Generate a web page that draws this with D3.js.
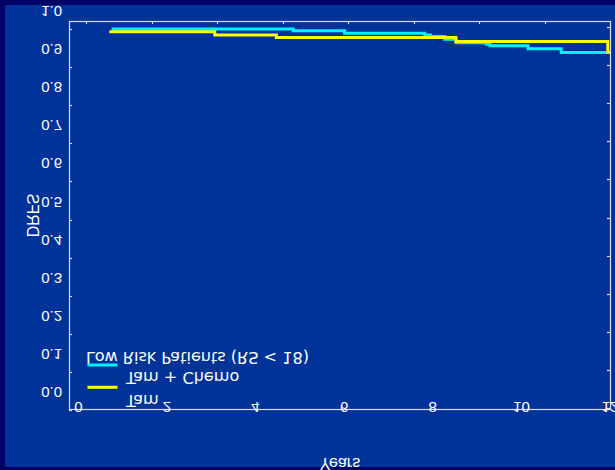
<!DOCTYPE html>
<html>
<head>
<meta charset="utf-8">
<script src="https://cdn.jsdelivr.net/npm/d3@7"></script>
<style>
  html, body { margin: 0; padding: 0; background: #000066; }
  svg { display: block; }
</style>
</head>
<body>
<script>
// Kaplan-Meier distant recurrence-free survival, low risk patients
const seriesNames = ["Tam", "Tam + Chemo"];
const tamTimes  = [0.75, 4.85, 6.01, 7.82, 7.95, 8.27, 8.53, 9.21, 9.29, 10.15, 10.90, 12.0];
const tamSurv   = [1.000, 0.9955, 0.989, 0.984, 0.980, 0.973, 0.964, 0.960, 0.956, 0.948, 0.938, 0.938];
const chemoTimes = [0.70, 3.08, 4.47, 8.52, 11.95, 12.0];
const chemoSurv  = [0.993, 0.984, 0.978, 0.967, 0.939, 0.939];
const xTickValues = [0, 2, 4, 6, 8, 10, 12];
const yTickValues = [0.0, 0.1, 0.2, 0.3, 0.4, 0.5, 0.6, 0.7, 0.8, 0.9, 1.0];
const legendTitle = "Low Risk Patients (RS < 18)";
const xTitle = "Years";
const yTitle = "DRFS";

const W = 615, H = 470;
const plot = { left: 69, right: 610, top: 21, bottom: 410 };

const svg = d3.select("body").append("svg").attr("width", W).attr("height", H);

// outer navy band and inner blue panel
svg.append("rect").attr("width", W).attr("height", H).attr("fill", "#000066");
svg.append("rect").attr("x", 5).attr("y", 5).attr("width", W - 5).attr("height", 462).attr("fill", "#003399");

const x = d3.scaleLinear().domain([-0.21, 12]).range([plot.left, plot.right]);
const y = d3.scaleLinear().domain([0, 1.021]).range([plot.bottom, plot.top]);
// secondary scale for the unlabelled tick marks along the top edge
const xTop = d3.scaleLinear().domain([0, 8]).range([86, plot.right]);

const frameColor = "#dcdcec";
const g = svg.append("g");

// frame
g.append("rect")
  .attr("x", plot.left + 0.5).attr("y", plot.top + 0.5)
  .attr("width", plot.right - plot.left).attr("height", plot.bottom - plot.top - 1)
  .attr("fill", "none").attr("stroke", frameColor).attr("stroke-width", 1.2);

// left ticks (inward)
g.selectAll(".ytick").data(yTickValues).join("line")
  .attr("x1", plot.left).attr("x2", plot.left + 3)
  .attr("y1", d => Math.round(y(d)) + 0.5).attr("y2", d => Math.round(y(d)) + 0.5)
  .attr("stroke", frameColor).attr("stroke-width", 1.2);

// right ticks (inward)
g.selectAll(".ytickR").data(yTickValues).join("line")
  .attr("x1", plot.right - 3).attr("x2", plot.right)
  .attr("y1", d => Math.round(y(d)) - 2 + 0.5).attr("y2", d => Math.round(y(d)) - 2 + 0.5)
  .attr("stroke", frameColor).attr("stroke-width", 1.2);

// top ticks
g.selectAll(".ttick").data(d3.range(0, 8)).join("line")
  .attr("x1", d => Math.round(xTop(d)) + 0.5).attr("x2", d => Math.round(xTop(d)) + 0.5)
  .attr("y1", plot.top).attr("y2", plot.top + 3)
  .attr("stroke", frameColor).attr("stroke-width", 1.2);

// labels are drawn mirrored top-to-bottom
const flip = "scale(1,-1)";

g.selectAll(".ylab").data(yTickValues).join("text")
  .attr("transform", d => `translate(62,${y(d) - 23}) ${flip}`)
  .attr("text-anchor", "end")
  .attr("font-family", "Liberation Sans, Arial, sans-serif")
  .attr("font-size", 15).attr("fill", "#ffffff")
  .text(d => d3.format(".1f")(d));

g.selectAll(".xlab").data(xTickValues).join("text")
  .attr("transform", d => `translate(${x(d)},${y(0) - 8}) ${flip}`)
  .attr("text-anchor", "middle")
  .attr("font-family", "Liberation Sans, Arial, sans-serif")
  .attr("font-size", 15).attr("fill", "#ffffff")
  .text(d => d);

g.append("text")
  .attr("transform", `translate(340,458) ${flip}`)
  .attr("text-anchor", "middle")
  .attr("font-family", "Liberation Sans, Arial, sans-serif")
  .attr("font-size", 16).attr("fill", "#ffffff")
  .text(xTitle);

g.append("text")
  .attr("transform", `translate(26.5,215.5) rotate(-90) ${flip}`)
  .attr("text-anchor", "middle")
  .attr("font-family", "Liberation Sans, Arial, sans-serif")
  .attr("font-size", 16).attr("fill", "#ffffff")
  .text(yTitle);

// survival curves
const line = d3.line().x(d => x(d[0])).y(d => y(d[1])).curve(d3.curveStepAfter);
const tamData = tamTimes.map((t, i) => [t, tamSurv[i]]);
const chemoData = chemoTimes.map((t, i) => [t, chemoSurv[i]]);

g.append("path").datum(tamData).attr("d", line)
  .attr("fill", "none").attr("stroke", "#00f2ff").attr("stroke-width", 3);
g.append("path").datum(chemoData).attr("d", line)
  .attr("fill", "none").attr("stroke", "#ffff00").attr("stroke-width", 3);

// legend
const legendFont = "DejaVu Sans, Verdana, sans-serif";
const legendSize = 16.1;
g.append("text")
  .attr("transform", `translate(86,351.5) ${flip}`)
  .attr("font-family", legendFont).attr("font-size", legendSize).attr("fill", "#ffffff")
  .text(legendTitle);

const legendItems = [
  { name: seriesNames[0], color: "#00f2ff", lineY: 365, textY: 394.5 },
  { name: seriesNames[1], color: "#ffff00", lineY: 387.3, textY: 372 }
];
legendItems.forEach(it => {
  g.append("line").attr("x1", 87.5).attr("x2", 117.5)
    .attr("y1", it.lineY).attr("y2", it.lineY)
    .attr("stroke", it.color).attr("stroke-width", 3);
  g.append("text")
    .attr("transform", `translate(126,${it.textY}) ${flip}`)
    .attr("font-family", legendFont).attr("font-size", legendSize).attr("fill", "#ffffff")
    .text(it.name);
});
</script>
</body>
</html>
